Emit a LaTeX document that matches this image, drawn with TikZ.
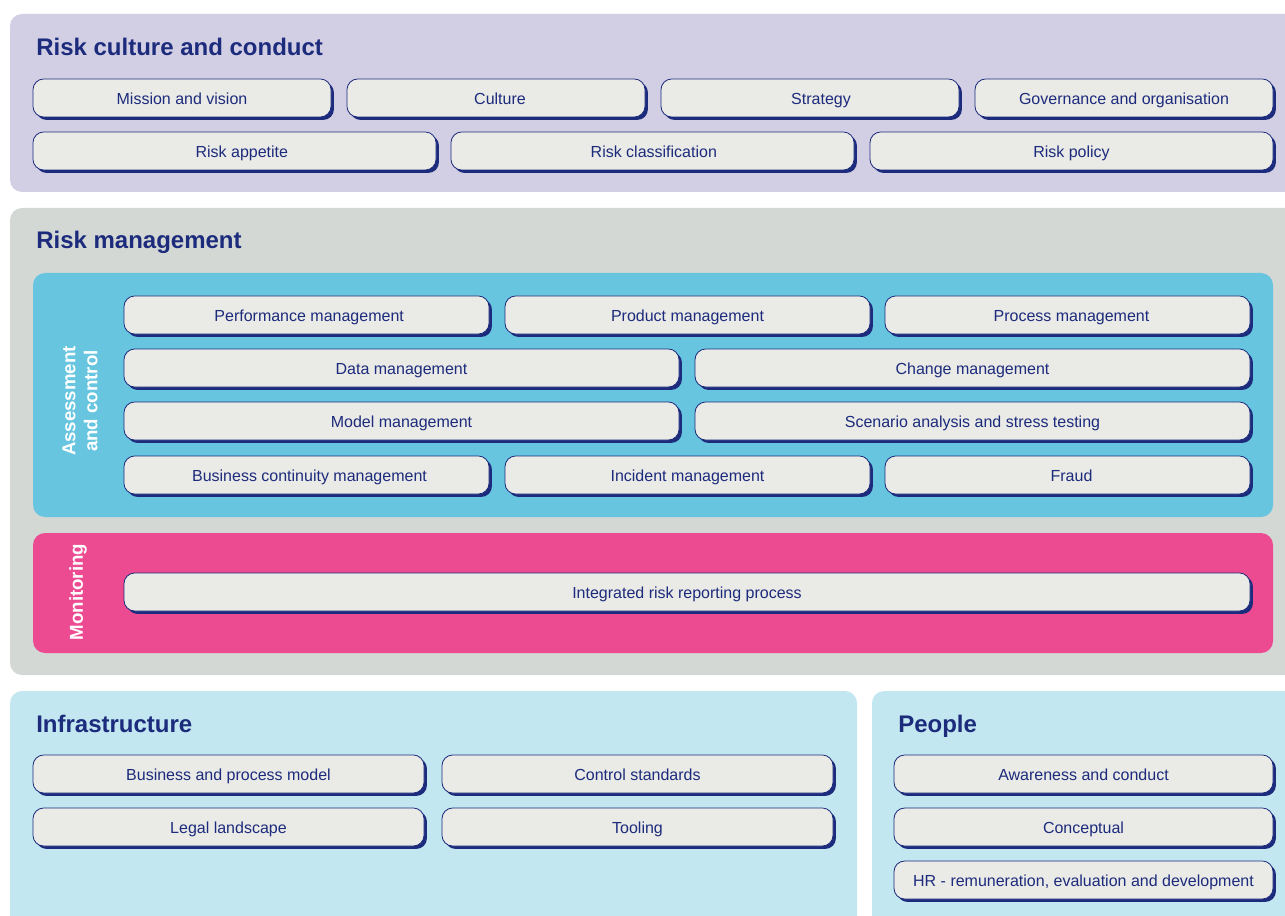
\documentclass[tikz,border=0pt]{standalone}
\usepackage{fontspec}
\setmainfont{Liberation Sans}
\usetikzlibrary{shadows}

\definecolor{navy}{RGB}{28,43,124}
\definecolor{boxfill}{RGB}{234,234,230}
\definecolor{lavender}{RGB}{210,207,228}
\definecolor{rmgray}{RGB}{211,216,213}
\definecolor{assesscol}{RGB}{103,197,223}
\definecolor{monitorcol}{RGB}{236,74,145}
\definecolor{infracol}{RGB}{194,231,240}

\tikzset{
	riskbox/.style={draw=navy, line width=0.6pt, fill=boxfill, rounded corners=8pt,
		text=navy, font=\fontsize{12}{14}\selectfont, inner sep=0pt,
		minimum width=#1*0.75pt, minimum height=28.5pt, text height=10.8pt, text depth=0.8pt,
		drop shadow={shadow xshift=2.2pt, shadow yshift=-2.2pt, fill=navy, opacity=1}},
	textshift/.style={execute at begin node={\hspace*{#1}}},
	heading/.style={anchor=base west, inner sep=0pt, text=navy,
		font=\fontsize{18}{22}\selectfont\bfseries},
	sidelabel/.style={rotate=90, align=center, inner sep=0pt, text=white,
		font=\fontsize{14}{16.5}\selectfont\bfseries},
	panel/.style={rounded corners=9pt}
}

\begin{document}
\begin{tikzpicture}[x=0.75pt,y=-0.75pt]
\useasboundingbox (0,0) rectangle (1285,916);
\clip (0,0) rectangle (1285,916);

% risk culture and conduct
\fill[lavender,panel] (10,14) rectangle (1310,192);
\node[heading] (tculture) at (36,56) {Risk culture and conduct};
\node[riskbox=298] (mission) at (182,98) {Mission and vision};
\node[riskbox=298,textshift=6pt] (culture) at (496,98) {Culture};
\node[riskbox=298,textshift=16.5pt] (strategy) at (810,98) {Strategy};
\node[riskbox=298] (governance) at (1124,98) {Governance and organisation};
\node[riskbox=403,textshift=11pt] (appetite) at (234.5,151) {Risk appetite};
\node[riskbox=403,textshift=2pt] (classification) at (652.5,151) {Risk classification};
\node[riskbox=403] (policy) at (1071.5,151) {Risk policy};

% risk management
\fill[rmgray,panel] (10,208) rectangle (1310,675);
\node[heading] (tmanagement) at (36,249) {Risk management};

\fill[assesscol,panel] (33,273) rectangle (1273,517);
\node[sidelabel] (lassess) at (80,401) {Assessment\\and control};
\node[riskbox=365,textshift=4pt] (performance) at (306.5,315) {Performance management};
\node[riskbox=365] (product) at (687.5,315) {Product management};
\node[riskbox=365,textshift=6pt] (process) at (1067.5,315) {Process management};
\node[riskbox=555] (data) at (401.5,368) {Data management};
\node[riskbox=555] (change) at (972.5,368) {Change management};
\node[riskbox=555] (model) at (401.5,421) {Model management};
\node[riskbox=555] (scenario) at (972.5,421) {Scenario analysis and stress testing};
\node[riskbox=365,textshift=4.5pt] (continuity) at (306.5,475) {Business continuity management};
\node[riskbox=365] (incident) at (687.5,475) {Incident management};
\node[riskbox=365,textshift=6pt] (fraud) at (1067.5,475) {Fraud};

\fill[monitorcol,panel] (33,533) rectangle (1273,653);
\node[sidelabel] (lmonitor) at (78,592) {Monitoring};
\node[riskbox=1126] (reporting) at (687,592) {Integrated risk reporting process};

% infrastructure
\fill[infracol,panel] (10,691) rectangle (857,940);
\node[heading] (tinfra) at (36,732) {Infrastructure};
\node[riskbox=391] (bpmodel) at (228.5,774) {Business and process model};
\node[riskbox=391] (standards) at (637.5,774) {Control standards};
\node[riskbox=391] (legal) at (228.5,827) {Legal landscape};
\node[riskbox=391] (tooling) at (637.5,827) {Tooling};

% people
\fill[infracol,panel] (872,691) rectangle (1310,940);
\node[heading] (tpeople) at (898,732) {People};
\node[riskbox=379] (awareness) at (1083.5,774) {Awareness and conduct};
\node[riskbox=379] (conceptual) at (1083.5,827) {Conceptual};
\node[riskbox=379] (hr) at (1083.5,880) {HR - remuneration, evaluation and development};

\end{tikzpicture}
\end{document}
